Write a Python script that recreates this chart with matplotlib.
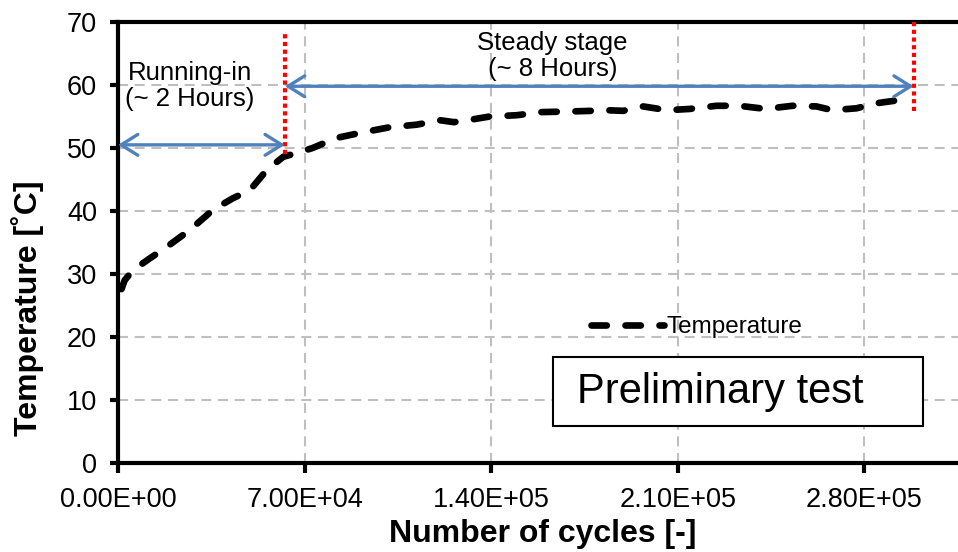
import matplotlib
matplotlib.use("Agg")
import matplotlib.pyplot as plt
from matplotlib.ticker import FuncFormatter
from matplotlib.patches import FancyArrowPatch, Rectangle

plt.rcParams['font.family'] = ['Liberation Sans', 'DejaVu Sans']

# ---- data ----
cycles = [1300, 2500, 5600, 12000, 18300, 27000, 35700, 43000, 49500, 55800,
          62000, 67000, 73000, 82000, 92000, 102000, 112000, 121000, 126000,
          131000, 139500, 149500, 159000, 169500, 178000, 183000, 189500,
          197000, 206000, 214500, 224500, 233000, 243000, 253000, 262000,
          268000, 277000, 284500, 293000, 296500]
temperature = [27.6, 29.0, 30.6, 32.5, 34.3, 37.0, 40.2, 42.0, 43.3, 46.5,
               48.6, 49.2, 50.0, 51.6, 52.5, 53.3, 53.7, 54.4, 54.1,
               54.4, 55.0, 55.2, 55.7, 55.8, 55.9, 56.0, 55.9,
               56.6, 56.0, 56.2, 56.7, 56.7, 56.2, 56.7, 56.6,
               56.0, 56.3, 57.1, 57.6, 58.0]
x_ticks = [0, 70000, 140000, 210000, 280000]
y_ticks = [0, 10, 20, 30, 40, 50, 60, 70]
runin_end = 62600
steady_end = 298500
runin_arrow_y = 50.5
steady_arrow_y = 59.8
runin_line_span = (49.0, 68.2)
steady_line_span = (55.8, 70.0)

fig = plt.figure(figsize=(9.58, 5.52), dpi=100)
ax = fig.add_axes([118/958, 89/552, 933/958, 441/552])

ax.set_xlim(0, 350000)
ax.set_ylim(0, 70)
ax.set_xticks(x_ticks)
ax.set_yticks(y_ticks)
ax.xaxis.set_major_formatter(FuncFormatter(lambda v, p: f"{v:.2E}"))

ax.set_axisbelow(True)
ax.grid(True, color='#BFBFBF', linestyle=(0, (4.8, 3.2)), linewidth=1.5)

for s in ['left', 'bottom', 'top']:
    ax.spines[s].set_linewidth(3.0)
    ax.spines[s].set_color('black')
ax.spines['right'].set_visible(False)
ax.tick_params(axis='both', direction='out', width=3.0, color='black',
               labelsize=19.5)
ax.tick_params(axis='y', length=6, pad=9)
ax.tick_params(axis='x', length=7, pad=10)

line, = ax.plot(cycles, temperature, color='black', linewidth=4.8,
                linestyle=(0, (2.3, 2.8)), dash_capstyle='round',
                solid_capstyle='round', solid_joinstyle='round',
                label='Temperature', zorder=3)

# red dotted markers
ax.plot([runin_end, runin_end], runin_line_span, color='red', linewidth=3.0,
        linestyle=(0, (1, 0.85)), zorder=4)
ax.plot([steady_end, steady_end], steady_line_span, color='red', linewidth=3.0,
        linestyle=(0, (1, 0.85)), zorder=4, clip_on=False)

# blue arrows
arrow_color = '#4F81BD'
for (x0, x1, yy) in [(0, runin_end, runin_arrow_y),
                     (runin_end, steady_end, steady_arrow_y)]:
    arr = FancyArrowPatch((x0, yy), (x1, yy),
                          arrowstyle='<->,head_length=12,head_width=7.5',
                          mutation_scale=1, color=arrow_color, linewidth=2.4,
                          shrinkA=0, shrinkB=0, zorder=5)
    ax.add_patch(arr)

ax.text(27000, 59.8, 'Running-in\n(~ 2 Hours)', ha='center', va='center',
        fontsize=18.5, linespacing=1.1)
ax.text(163000, 64.6, 'Steady stage\n(~ 8 Hours)', ha='center', va='center',
        fontsize=18.5, linespacing=1.1)

# Preliminary test box
box = Rectangle((163000, 5.8), 139000, 11.0, facecolor='white',
                edgecolor='black', linewidth=1.5, zorder=6)
ax.add_patch(box)
ax.text(172000, 11.3, 'Preliminary test', ha='left', va='center',
        fontsize=30, zorder=7)

ax.set_xlabel('Number of cycles [-]', fontsize=23, fontweight='bold')
ax.set_ylabel('Temperature [˚C]', fontsize=23, fontweight='bold')
ax.xaxis.set_label_coords(0.4555, -0.127)
ax.yaxis.set_label_coords(-0.079, 0.350)

leg = ax.legend(handles=[line], loc='center', bbox_to_anchor=(0.62, 0.308),
                frameon=False, fontsize=17.5, handlelength=3.0,
                handletextpad=0.1, borderaxespad=0)

fig.savefig('out.png', dpi=100)
